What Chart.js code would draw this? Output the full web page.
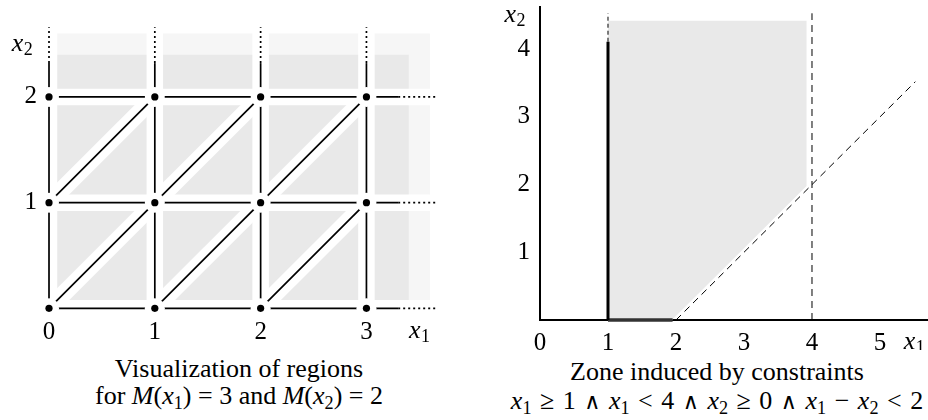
<!DOCTYPE html>
<html>
<head>
<meta charset="utf-8">
<script src="https://cdn.jsdelivr.net/npm/chart.js@4.4.0/dist/chart.umd.min.js"></script>
<style>
  body { margin: 0; background: #fff; }
  #wrap { position: relative; width: 928px; height: 420px; overflow: hidden; font-family: "Liberation Serif", serif; color: #000; }
  canvas { position: absolute; top: 0; }
  .cap { position: absolute; white-space: nowrap; font-size: 26px; line-height: 26px; transform: translateX(-50%); }
  .f { word-spacing: 2px; }
  .s { font-size: 0.7em; position: relative; top: 0.28em; font-style: normal; }
  .op { font-family: "DejaVu Serif", serif; font-size: 0.85em; }
</style>
</head>
<body>
<div id="wrap">
  <canvas id="left" width="464" height="350" style="left:0"></canvas>
  <canvas id="right" width="464" height="350" style="left:464px"></canvas>
  <div class="cap" style="left:239px; top:356px">Visualization of regions</div>
  <div class="cap" style="left:239px; top:383px">for <i>M</i>(<i>x</i><span class="s">1</span>) = 3 and <i>M</i>(<i>x</i><span class="s">2</span>) = 2</div>
  <div class="cap" style="left:717px; top:359px">Zone induced by constraints</div>
  <div class="cap f" style="left:717px; top:388px"><i>x</i><span class="s">1</span> ≥ 1 <span class="op">∧</span> <i>x</i><span class="s">1</span> &lt; 4 <span class="op">∧</span> <i>x</i><span class="s">2</span> ≥ 0 <span class="op">∧</span> <i>x</i><span class="s">1</span> − <i>x</i><span class="s">2</span> &lt; 2</div>
</div>
<script>
// ---- left panel: regions for M(x1)=3, M(x2)=2
var gridX = [0, 1, 2, 3];
var gridY = [0, 1, 2];
var xTicksLeft = [0, 1, 2, 3];
var yTicksLeft = [1, 2];
var rowSolidEnd = 3.3, rowDottedEnd = 3.67;   // horizontal lines
var colSolidEnd = 2.32, colDottedEnd = 2.66;  // vertical lines
var diagonals = [[[0, 1], [1, 2]], [[0, 0], [2, 2]], [[1, 0], [3, 2]], [[2, 0], [3, 1]]];
var outerBand = [[0, 0], [3.6, 0], [3.6, 2.6], [0, 2.6]];
var innerBand = [[0, 0], [3.4, 0], [3.4, 2.4], [0, 2.4]];
var axisNamesLeft = [{sub: '1', x: 3.5, y: -0.215}, {sub: '2', x: -0.255, y: 2.5}];

// ---- right panel: zone induced by constraints
var xTicksRight = [0, 1, 2, 3, 4, 5];
var yTicksRight = [1, 2, 3, 4];
var zone = [[1, 0], [1.94, 0], [3.92, 1.98], [3.92, 4.42], [1, 4.42]];
var leftBound = [[1, 0], [1, 4.11]];
var leftBoundExt = [[1, 4.11], [1, 4.53]];
var bottomBound = [[1, 0], [1.95, 0]];
var rightBound = [[4, 0], [4, 4.53]];
var diagBound = [[2, 0], [5.52, 3.52]];
var axisNamesRight = [{sub: '1', x: 5.5, y: -0.325}, {sub: '2', x: -0.37, y: 4.5}];

var tickFont = {family: '"Liberation Serif", serif', size: 25};

function pts(arr) {
    return arr.map(function (p) { return {x: p[0], y: p[1]}; });
}

function line(data, color, width, order, extra) {
    return Object.assign({
        data: pts(data), showLine: true, borderColor: color, borderWidth: width,
        pointRadius: 0, fill: false, clip: false, order: order, borderCapStyle: 'butt'
    }, extra || {});
}

function polygon(data, color, order) {
    return {
        data: pts(data), showLine: true, borderColor: 'rgba(0,0,0,0)', borderWidth: 1,
        backgroundColor: color, pointRadius: 0, fill: 'shape', clip: false, order: order
    };
}

// draws the italic axis names (x1, x2) next to the axes
var axisNames = {
    id: 'axisNames',
    afterDraw: function (chart, args, opts) {
        var ctx = chart.ctx;
        ctx.save();
        ctx.fillStyle = '#000';
        ctx.textBaseline = 'middle';
        ctx.textAlign = 'left';
        opts.items.forEach(function (it) {
            var px = chart.scales.x.getPixelForValue(it.x);
            var py = chart.scales.y.getPixelForValue(it.y);
            ctx.font = 'italic 26px "Liberation Serif", serif';
            var w = ctx.measureText('x').width;
            ctx.font = '18px "Liberation Serif", serif';
            var ws = ctx.measureText(it.sub).width;
            var start = px - (w + ws) / 2;
            ctx.font = 'italic 26px "Liberation Serif", serif';
            ctx.fillText('x', start, py);
            ctx.font = '18px "Liberation Serif", serif';
            ctx.fillText(it.sub, start + w + 0.5, py + 6);
        });
        ctx.restore();
    }
};

function scaleOpts(min, max, ticks, size, pad, border) {
    return {
        type: 'linear', min: min, max: max,
        grid: {display: false, drawTicks: false},
        border: {display: border, color: '#000', width: 2},
        ticks: {font: tickFont, color: '#000', padding: pad, maxRotation: 0, autoSkip: false},
        afterBuildTicks: function (s) { s.ticks = ticks.map(function (v) { return {value: v}; }); },
        afterFit: function (s) {
            if (s.isHorizontal()) s.height = size; else s.width = size;
            s.paddingTop = s.paddingBottom = s.paddingLeft = s.paddingRight = 0;
        }
    };
}

function baseOptions(xs, ys, names, padTop) {
    return {
        responsive: false, animation: false, events: [],
        layout: {autoPadding: false, padding: {top: padTop, left: 0, right: 0, bottom: 0}},
        plugins: {legend: {display: false}, tooltip: {enabled: false}, axisNames: {items: names}},
        scales: {x: xs, y: ys}
    };
}

// left chart datasets
var leftSets = [];
leftSets.push(polygon(outerBand, '#f6f6f6', 7));
leftSets.push(polygon(innerBand, '#e9e9e9', 6));
gridY.forEach(function (v) {
    leftSets.push(line([[0, v], [rowDottedEnd, v]], '#fff', 16.5, 5));
    leftSets.push(line([[0, v], [rowSolidEnd, v]], '#000', 1.7, 3));
    leftSets.push(line([[rowSolidEnd, v], [rowDottedEnd, v]], '#000', 1.7, 3, {borderDash: [2, 3]}));
});
gridX.forEach(function (v) {
    leftSets.push(line([[v, 0], [v, colDottedEnd]], '#fff', 16.5, 5));
    leftSets.push(line([[v, 0], [v, colSolidEnd]], '#000', 1.7, 3));
    leftSets.push(line([[v, colSolidEnd], [v, colDottedEnd]], '#000', 1.7, 3, {borderDash: [2, 3]}));
});
diagonals.forEach(function (d) {
    leftSets.push(line(d, '#fff', 17, 4));
    leftSets.push(line(d, '#000', 1.7, 3));
});
var nodes = [];
gridY.forEach(function (yv) { gridX.forEach(function (xv) { nodes.push([xv, yv]); }); });
leftSets.push({data: pts(nodes), pointRadius: 10, pointBackgroundColor: '#fff', pointBorderWidth: 0, clip: false, order: 2});
leftSets.push({data: pts(nodes), pointRadius: 3.6, pointBackgroundColor: '#000', pointBorderWidth: 0, clip: false, order: 1});

new Chart(document.getElementById('left'), {
    type: 'scatter',
    data: {datasets: leftSets},
    options: baseOptions(
        scaleOpts(-0.104, 3.922, xTicksLeft, 33, 0, false),
        scaleOpts(-0.082, 2.917, yTicksLeft, 38, 1, false),
        axisNamesLeft, 0),
    plugins: [axisNames]
});

// right chart datasets
var rightSets = [
    polygon(zone, '#e9e9e9', 6),
    line(diagBound, '#000', 1, 3, {borderDash: [7, 5]}),
    line(rightBound, '#000', 1, 3, {borderDash: [7, 5]}),
    line(leftBoundExt, '#000', 1, 3, {borderDash: [4, 3]}),
    line(leftBound, '#000', 3, 2),
    line(bottomBound, '#333', 3.5, 2)
];

new Chart(document.getElementById('right'), {
    type: 'scatter',
    data: {datasets: rightSets},
    options: baseOptions(
        scaleOpts(0, 5.706, xTicksRight, 30, 8, true),
        scaleOpts(0, 4.623, yTicksRight, 76, 10, true),
        axisNamesRight, 7),
    plugins: [axisNames]
});
</script>
</body>
</html>
